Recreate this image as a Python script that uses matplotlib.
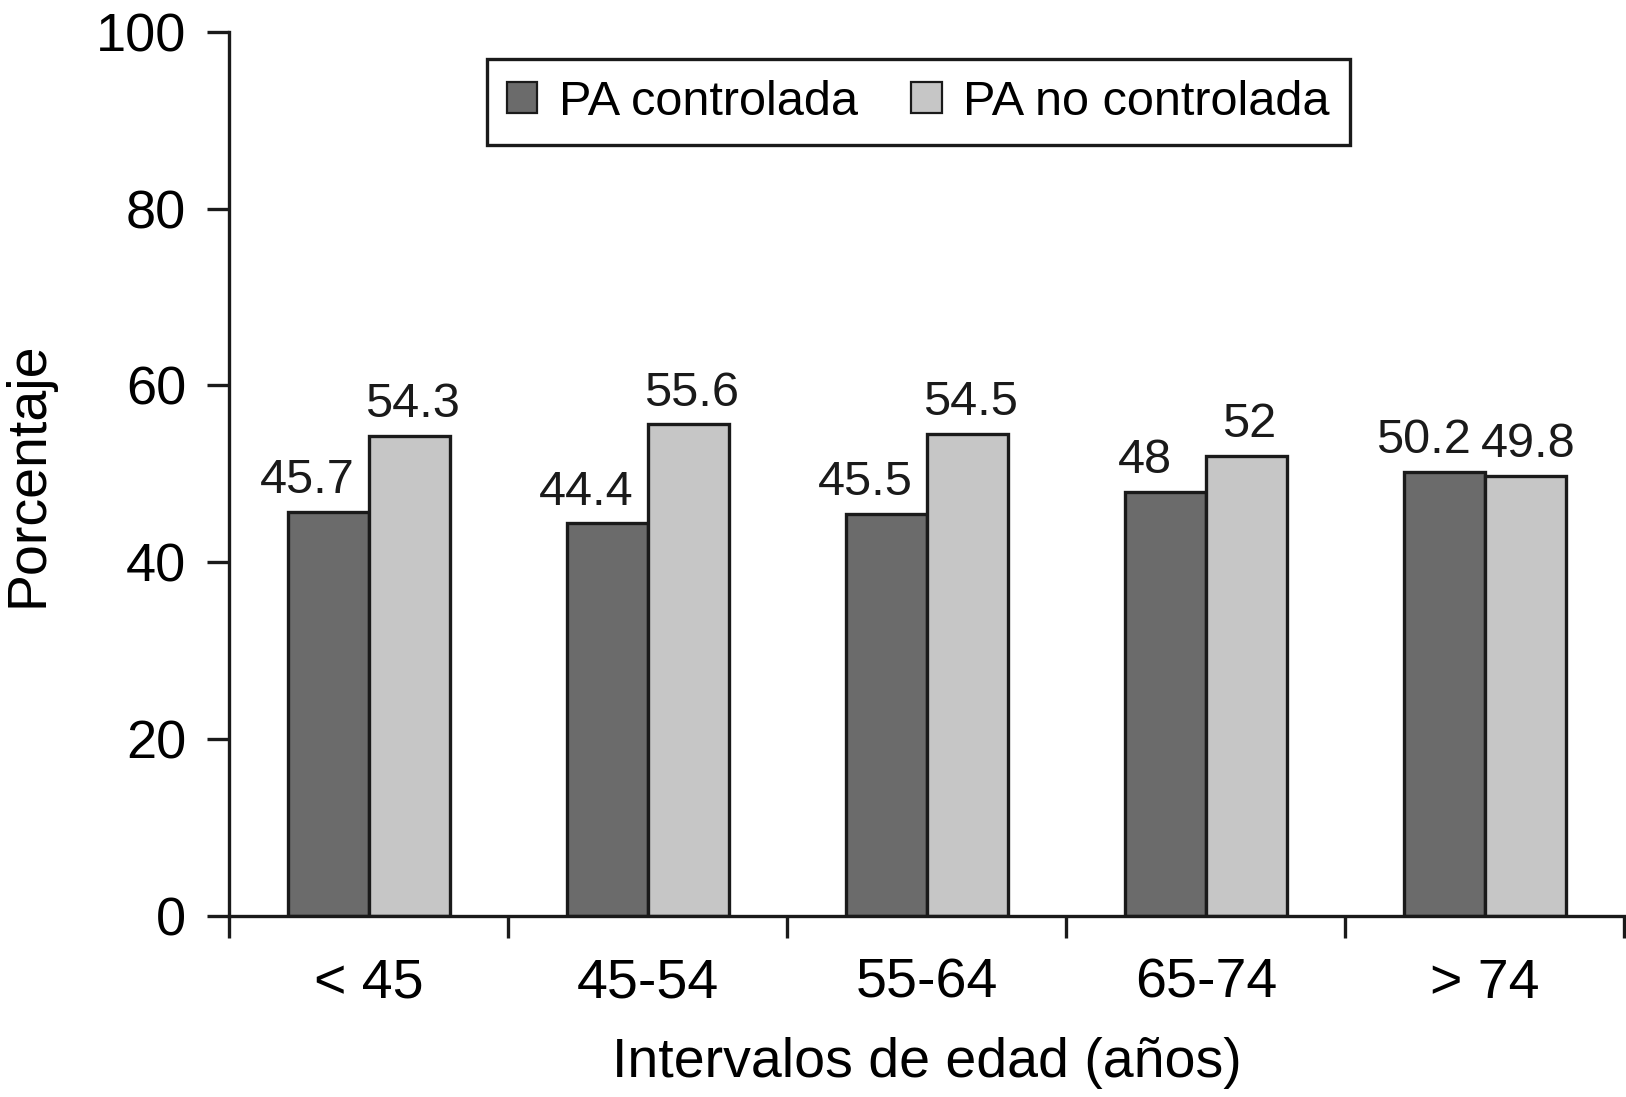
import matplotlib
matplotlib.use("Agg")
import matplotlib.pyplot as plt
import numpy as np

plt.rcParams['font.family'] = ['Liberation Sans', 'DejaVu Sans']

# data
categories = ['< 45', '45-54', '55-64', '65-74', '> 74']
controlada = [45.7, 44.4, 45.5, 48, 50.2]
no_controlada = [54.3, 55.6, 54.5, 52, 49.8]
controlada_labels = ['45.7', '44.4', '45.5', '48', '50.2']
no_controlada_labels = ['54.3', '55.6', '54.5', '52', '49.8']

dark = '#6b6b6b'
light = '#c6c6c6'
ink = '#1a1a1a'
lw = 2.4

fig = plt.figure(figsize=(16.26, 10.97), dpi=100)
ax = fig.add_axes([0.141, 0.165, 0.858, 0.806])

x = np.arange(len(categories)) + 0.5
w = 0.29
b1 = ax.bar(x - w / 2, controlada, w, color=dark, edgecolor=ink,
            linewidth=lw, label='PA controlada')
b2 = ax.bar(x + w / 2, no_controlada, w, color=light, edgecolor=ink,
            linewidth=lw, label='PA no controlada')

# dark-bar labels sit a little to the left of their bar centre
for rect, lab in zip(b1, controlada_labels):
    ax.text(rect.get_x() + rect.get_width() / 2 - 0.075, rect.get_height() + 1.0, lab,
            ha='center', va='bottom', fontsize=35, color=ink)
for rect, lab in zip(b2, no_controlada_labels):
    ax.text(rect.get_x() + rect.get_width() / 2 + 0.01, rect.get_height() + 1.0, lab,
            ha='center', va='bottom', fontsize=35, color=ink)

ax.set_xlim(0, len(categories))
ax.set_ylim(0, 100)
ax.set_yticks([0, 20, 40, 60, 80, 100])

# labels at centres, tick marks at the boundaries
ax.set_xticks(x)
ax.set_xticklabels(categories)
ax.set_xticks(np.arange(len(categories) + 1), minor=True)
ax.tick_params(axis='x', which='major', length=0, pad=30, labelsize=40)
ax.tick_params(axis='x', which='minor', length=16, width=lw, color=ink)
ax.tick_params(axis='y', which='major', length=16, width=lw, pad=15,
               labelsize=39, color=ink)

for s in ['top', 'right']:
    ax.spines[s].set_visible(False)
for s in ['left', 'bottom']:
    ax.spines[s].set_linewidth(lw)
    ax.spines[s].set_color(ink)

ax.set_xlabel('Intervalos de edad (años)', fontsize=40, labelpad=20)
ax.set_ylabel('Porcentaje', fontsize=40, labelpad=30)

leg = ax.legend(loc='upper center', bbox_to_anchor=(0.494, 0.969), ncol=2,
                fontsize=35, frameon=True, fancybox=False, edgecolor=ink,
                framealpha=1, handlelength=0.62, handleheight=0.62,
                handletextpad=0.45, columnspacing=1.1, borderpad=0.42,
                borderaxespad=0)
leg.get_frame().set_linewidth(lw)
for h in leg.legend_handles:
    h.set_linewidth(1.6)

fig.savefig('out.png', dpi=100, facecolor='white')
